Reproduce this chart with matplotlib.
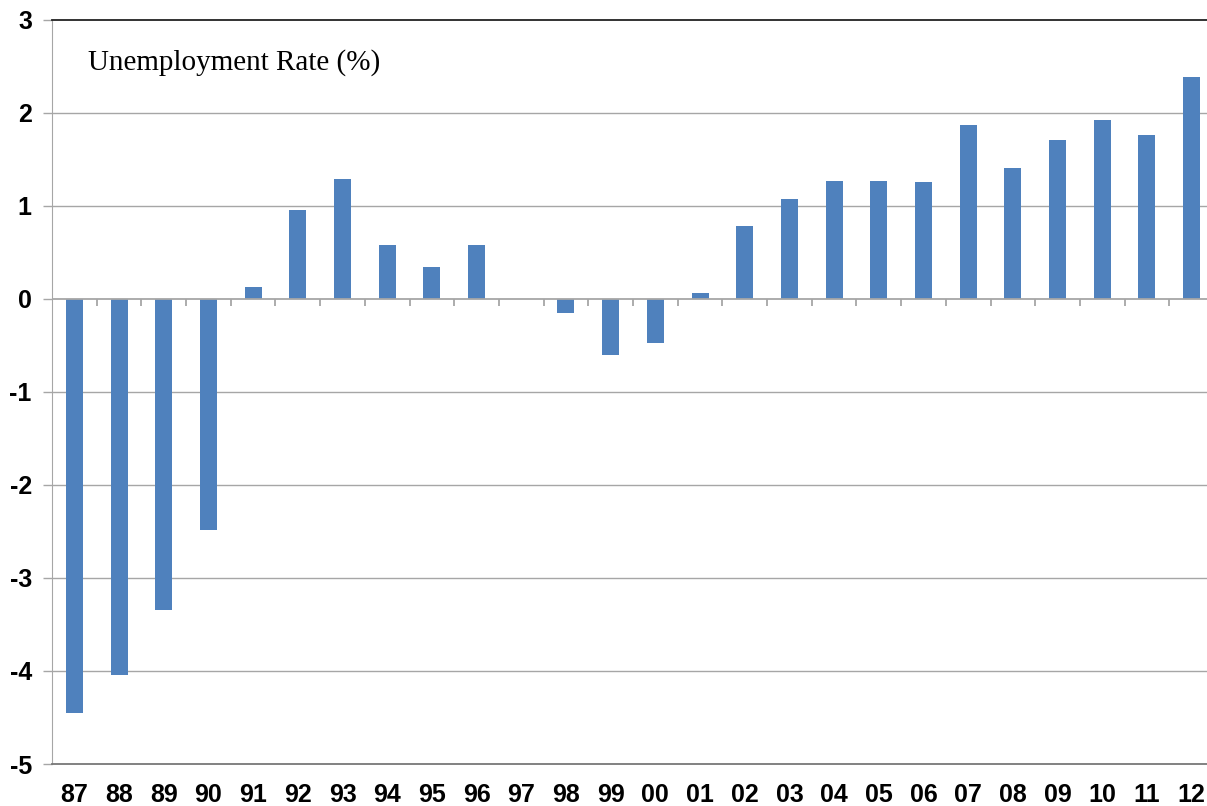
import matplotlib
matplotlib.use("Agg")
import matplotlib.pyplot as plt
import numpy as np

years = ["87", "88", "89", "90", "91", "92", "93", "94", "95", "96", "97", "98", "99",
         "00", "01", "02", "03", "04", "05", "06", "07", "08", "09", "10", "11", "12"]
values = [-4.45, -4.04, -3.34, -2.49, 0.13, 0.95, 1.29, 0.58, 0.34, 0.58, 0.0, -0.15, -0.60,
          -0.48, 0.06, 0.78, 1.07, 1.26, 1.26, 1.25, 1.87, 1.40, 1.71, 1.92, 1.76, 2.38]
yticks = [3, 2, 1, 0, -1, -2, -3, -4, -5]
title = "Unemployment Rate (%)"

bar_color = "#4F81BD"
grid_color = "#A6A6A6"

fig = plt.figure(figsize=(12.07, 8.06), dpi=100)
ax = fig.add_axes([52 / 1207, 42 / 806, 1162 / 1207, 744.5 / 806])

x = np.arange(len(years))
ax.bar(x, values, width=0.38, color=bar_color, zorder=3)

ax.set_xlim(-0.5, len(years) - 0.5)
ax.set_ylim(-5, 3)
ax.set_yticks(yticks)
ax.set_yticklabels([str(v) for v in yticks], fontfamily="Liberation Sans",
                   fontweight="bold", fontsize=18)
ax.set_xticks(x)
ax.set_xticklabels(years, fontfamily="Liberation Sans", fontweight="bold", fontsize=18)
ax.tick_params(axis="x", length=0, pad=14)
ax.tick_params(axis="y", length=6.5, width=1, color=grid_color, pad=8)

for yv in yticks:
    if yv not in (3, -5, 0):
        ax.axhline(yv, color=grid_color, lw=1, zorder=1)
ax.axhline(0, color=grid_color, lw=1.3, zorder=4)
bounds = np.arange(len(years) + 1) - 0.5
ax.vlines(bounds, -0.075, 0, color=grid_color, lw=1.3, zorder=4)

ax.spines["top"].set_color("#222222")
ax.spines["top"].set_linewidth(1.3)
ax.spines["left"].set_color(grid_color)
ax.spines["bottom"].set_color("#777777")
ax.spines["bottom"].set_linewidth(1.3)
ax.spines["right"].set_visible(False)

ax.text(88 / 1207, 1 - 70 / 806, title, transform=fig.transFigure, fontfamily="Liberation Serif",
        fontsize=21, va="baseline", ha="left")

fig.savefig("out.png", dpi=100)
